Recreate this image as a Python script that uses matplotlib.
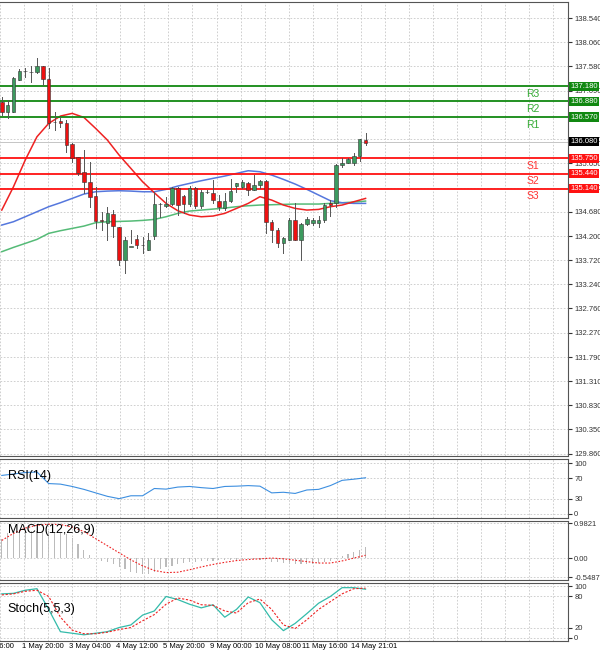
import matplotlib.pyplot as plt
from matplotlib.ticker import FixedLocator
import numpy as np

plt.rcParams["font.family"] = "Liberation Sans"

# candles: open, close, high, low
opens = [136.874, 136.675, 136.675, 137.306, 137.485, 137.471, 137.458, 137.584, 137.319, 136.476,
         136.489, 136.443, 136.025, 135.766, 135.474, 135.281, 134.996, 134.505, 134.465, 134.637,
         134.385, 133.722, 133.985, 134.133, 134.020, 133.922, 134.206, 134.837, 134.797, 134.837,
         135.149, 134.996, 134.837, 135.149, 134.797, 135.082, 135.049, 134.903, 134.750, 134.903,
         135.195, 135.182, 135.261, 135.115, 135.208, 135.288, 134.485, 134.319, 134.067, 134.120,
         134.518, 134.120, 134.438, 134.465, 134.465, 134.518, 134.850, 134.850, 135.607, 135.660,
         135.646, 135.792, 136.111]
closes = [136.675, 136.808, 137.339, 137.491, 137.480, 137.465, 137.584, 137.319, 136.443, 136.470,
          136.443, 136.011, 135.746, 135.461, 135.281, 134.983, 134.505, 134.500, 134.651, 134.398,
          133.722, 134.120, 133.990, 134.020, 134.015, 134.120, 134.837, 134.840, 134.837, 135.149,
          134.817, 134.837, 135.149, 134.797, 135.082, 135.075, 134.916, 134.770, 134.903, 135.102,
          135.248, 135.281, 135.115, 135.208, 135.288, 134.485, 134.319, 134.053, 134.153, 134.518,
          134.120, 134.438, 134.531, 134.518, 134.518, 134.817, 134.817, 135.613, 135.660, 135.726,
          135.792, 136.124, 136.058]
highs = [136.974, 136.907, 137.372, 137.518, 137.538, 137.584, 137.737, 137.584, 137.538, 136.675,
         136.575, 136.509, 136.045, 135.779, 135.912, 135.680, 135.182, 134.684, 134.784, 134.717,
         134.385, 134.186, 134.322, 134.219, 134.186, 134.253, 135.082, 134.850, 134.983, 135.182,
         135.182, 135.016, 135.195, 135.182, 135.115, 135.115, 135.314, 135.016, 135.049, 135.328,
         135.248, 135.314, 135.281, 135.414, 135.314, 135.314, 134.518, 134.352, 134.186, 134.551,
         134.850, 134.451, 134.584, 134.551, 134.598, 134.863, 134.916, 135.633, 135.746, 135.746,
         135.845, 136.124, 136.244]
lows = [136.609, 136.542, 136.675, 137.306, 137.372, 137.272, 137.438, 137.206, 136.343, 136.310,
        136.376, 135.879, 135.680, 135.414, 135.049, 134.784, 134.352, 134.319, 134.120, 134.186,
        133.622, 133.469, 134.053, 133.954, 133.854, 133.921, 134.133, 134.584, 134.784, 134.817,
        134.618, 134.651, 134.797, 134.750, 134.750, 135.049, 134.863, 134.717, 134.717, 134.883,
        135.082, 135.149, 135.016, 135.115, 135.149, 134.253, 134.087, 133.987, 133.854, 134.120,
        134.120, 133.722, 134.418, 134.418, 134.372, 134.485, 134.598, 134.784, 135.567, 135.646,
        135.613, 135.700, 136.011]

# moving averages, every second candle
ma_index = list(range(0, 63, 2))
ma_red = [134.717, 135.182, 135.713, 136.177, 136.443, 136.589, 136.642, 136.562, 136.343, 136.111,
          135.812, 135.547, 135.281, 135.062, 134.850, 134.704, 134.618, 134.584, 134.598, 134.651,
          134.750, 134.850, 134.983, 134.916, 134.817, 134.750, 134.717, 134.730, 134.784, 134.817,
          134.883, 134.949]
ma_blue = [134.418, 134.485, 134.584, 134.684, 134.784, 134.863, 134.949, 135.036, 135.082, 135.095,
           135.102, 135.095, 135.082, 135.082, 135.129, 135.195, 135.248, 135.301, 135.348, 135.394,
           135.447, 135.500, 135.480, 135.414, 135.328, 135.235, 135.129, 135.016, 134.903, 134.863,
           134.850, 134.850]
ma_green = [133.888, 133.974, 134.053, 134.133, 134.253, 134.306, 134.352, 134.398, 134.465, 134.485,
            134.491, 134.498, 134.511, 134.531, 134.584, 134.651, 134.697, 134.717, 134.737, 134.757,
            134.784, 134.803, 134.817, 134.823, 134.830, 134.837, 134.837, 134.837, 134.850, 134.863,
            134.876, 134.896]

levels = {"R3": 137.180, "R2": 136.880, "R1": 136.570, "S1": 135.750, "S2": 135.440, "S3": 135.140}
last_price = 136.080
price_ticks = [138.540, 138.060, 137.580, 137.090, 136.130, 135.650, 135.160, 134.680, 134.200, 133.720,
               133.240, 132.760, 132.270, 131.790, 131.310, 130.830, 130.350, 129.860]

rsi = [75.7, 78.5, 81.4, 82.5, 59.7, 58.6, 54.0, 48.3, 41.4, 34.6, 30.0, 35.7, 35.7, 50.0, 48.8, 52.8,
       54.0, 51.7, 50.0, 54.0, 54.6, 55.7, 54.6, 41.4, 42.6, 40.3, 47.1, 48.3, 55.7, 66.0, 68.3, 71.1]

macd_hist = [0.55, 0.70, 0.76, 0.78, 0.78, 0.78, 0.78, 0.78, 0.76, 0.74, 0.72, 0.68, 0.56, 0.40, 0.22,
             0.10, 0.0, -0.07, -0.12, -0.17, -0.24, -0.31, -0.38, -0.43, -0.46, -0.44, -0.38, -0.32,
             -0.26, -0.22, -0.18, -0.15, -0.12, -0.10, -0.09, -0.08, -0.07, -0.06, -0.05, -0.05, -0.04,
             -0.03, -0.03, -0.03, -0.04, -0.06, -0.10, -0.12, -0.14, -0.16, -0.17, -0.17, -0.17, -0.16,
             -0.14, -0.12, -0.08, -0.02, 0.05, 0.12, 0.18, 0.24, 0.30]
macd_signal = [0.50, 0.70, 0.85, 0.93, 0.96, 0.95, 0.88, 0.75, 0.55, 0.35, 0.15, -0.05, -0.22, -0.35,
               -0.41, -0.40, -0.33, -0.25, -0.18, -0.12, -0.07, -0.04, -0.02, 0.0, -0.02, -0.06, -0.10,
               -0.14, -0.14, -0.08, 0.0, 0.08]

stoch_main = [85, 86, 92, 95, 55, 12, 9, 6, 9, 12, 20, 25, 44, 52, 80, 74, 65, 58, 64, 40, 55, 79, 68,
              35, 14, 28, 47, 67, 80, 97, 97, 94]
stoch_signal = [83, 85, 90, 92, 80, 40, 15, 8, 8, 11, 16, 20, 33, 45, 65, 77, 73, 64, 63, 52, 48, 68,
                75, 55, 25, 18, 35, 55, 70, 85, 95, 96]

time_labels = ["16:00", "1 May 20:00", "3 May 04:00", "4 May 12:00", "5 May 20:00", "9 May 00:00",
               "10 May 08:00", "11 May 16:00", "14 May 21:01"]
time_pos = [0.5, 7, 15, 23, 31, 39, 47, 55, 63.5]

UP = "#3c9a5f"
DOWN = "#ee1111"
GRID = "#c8c8c8"


def style(ax):
    ax.set_xlim(-0.3, 96.5)
    ax.yaxis.tick_right()
    ax.tick_params(axis="y", labelsize=5.5, length=3, pad=1.5, colors="#333333")
    ax.tick_params(axis="x", length=0)
    ax.xaxis.set_major_locator(FixedLocator(np.arange(-0.3, 96.5, 4.1)))
    ax.set_xticklabels([])
    ax.grid(True, color=GRID, linestyle=(0, (2, 2)), linewidth=0.6)
    for s in ax.spines.values():
        s.set_color("#555555")
        s.set_linewidth(0.8)
    ax.spines["left"].set_visible(False)


def main() -> None:
    fig = plt.figure(figsize=(6.0, 6.53), dpi=100)
    W, H = 600, 653

    def box(top, bottom):
        return [0, 1 - bottom / H, 568 / W, (bottom - top) / H]

    ax = fig.add_axes(box(2, 456))
    ax_rsi = fig.add_axes(box(459, 518))
    ax_macd = fig.add_axes(box(521, 580))
    ax_st = fig.add_axes(box(583, 641))
    for a in (ax, ax_rsi, ax_macd, ax_st):
        style(a)

    # main price panel
    ax.set_ylim(129.82, 138.86)
    ax.yaxis.set_major_locator(FixedLocator(price_ticks))
    ax.set_yticklabels([f"{t:.3f}" for t in price_ticks])
    for i, (o, c, h, l) in enumerate(zip(opens, closes, highs, lows)):
        col = UP if c >= o else DOWN
        ax.plot([i, i], [l, h], color="#555555", linewidth=0.7, zorder=3)
        ax.bar(i, max(abs(c - o), 0.01), bottom=min(o, c), width=0.6, color=col,
               edgecolor="#333333", linewidth=0.4, zorder=4)
    ax.plot(ma_index, ma_green, color="#55bb77", linewidth=1.1, zorder=2)
    ax.plot(ma_index, ma_blue, color="#5577dd", linewidth=1.1, zorder=2)
    ax.plot(ma_index, ma_red, color="#ee2222", linewidth=1.1, zorder=2)
    for name, val in levels.items():
        col = "#118811" if name.startswith("R") else "#ff1111"
        ax.axhline(val, color=col, linewidth=1.3, zorder=2)
        ax.text(90.5, val - 0.05, name, color="#33aa33" if name.startswith("R") else "#ff3333",
                fontsize=7.5, ha="center", va="top")
        ax.text(1.004, val, f"{val:.3f}", transform=ax.get_yaxis_transform(), fontsize=5.5,
                color="white", va="center", ha="left", zorder=5,
                bbox=dict(boxstyle="square,pad=0.15", fc=col, ec="none"))
    ax.axhline(last_price, color="#bbbbbb", linewidth=0.6, zorder=1)
    ax.text(1.004, last_price, f"{last_price:.3f}", transform=ax.get_yaxis_transform(), fontsize=5.5,
            color="white", va="center", ha="left", zorder=5,
            bbox=dict(boxstyle="square,pad=0.15", fc="black", ec="none"))

    # RSI
    ax_rsi.set_ylim(-8, 108)
    ax_rsi.yaxis.set_major_locator(FixedLocator([0, 30, 70, 100]))
    ax_rsi.set_yticklabels(["0", "30", "70", "100"])
    ax_rsi.plot(ma_index, rsi, color="#3d8fe0", linewidth=0.8)
    ax_rsi.text(1, 74, "RSI(14)", fontsize=9, va="center")

    # MACD
    ax_macd.set_ylim(-0.62, 1.05)
    ax_macd.yaxis.set_major_locator(FixedLocator([-0.5487, 0.0, 0.9821]))
    ax_macd.set_yticklabels(["-0.5487", "0.00", "0.9821"])
    ax_macd.bar(range(len(macd_hist)), macd_hist, width=0.2, color="#bbbbbb")
    ax_macd.plot(ma_index, macd_signal, color="#ee2222", linewidth=0.8, linestyle=(0, (1.5, 1.5)))
    ax_macd.text(1, 0.8, "MACD(12,26,9)", fontsize=9, va="center")

    # Stochastic
    ax_st.set_ylim(-6, 106)
    ax_st.yaxis.set_major_locator(FixedLocator([0, 20, 80, 100]))
    ax_st.set_yticklabels(["0", "20", "80", "100"])
    ax_st.plot(ma_index, stoch_main, color="#33bbaa", linewidth=0.9)
    ax_st.plot(ma_index, stoch_signal, color="#ee2222", linewidth=0.8, linestyle=(0, (2, 1.5)))
    ax_st.text(1, 55, "Stoch(5,5,3)", fontsize=9, va="center")
    for p, lab in zip(time_pos, time_labels):
        ax_st.text(p, -10, lab, fontsize=5.5, ha="center", va="top", clip_on=False)

    fig.savefig("out.png", dpi=100, facecolor="white")
    plt.close(fig)


if __name__ == "__main__":
    main()
